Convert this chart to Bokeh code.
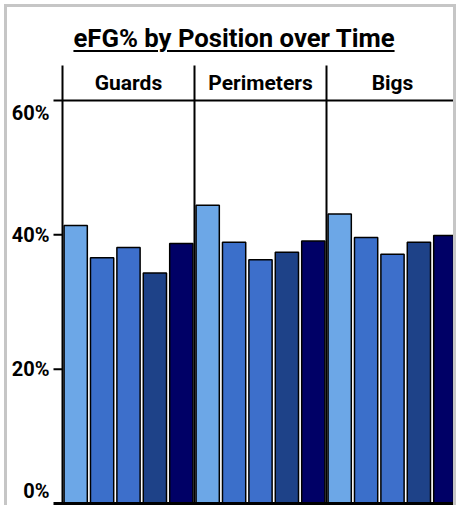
import numpy as np
from bokeh.plotting import figure
from bokeh.models import ColumnDataSource, Div, Range1d
from bokeh.layouts import column
from bokeh.core.properties import value
from bokeh.embed import file_html
from bokeh.resources import INLINE

# ---------------- data ----------------
chart_title = "eFG% by Position over Time"
positions = ["Guards", "Perimeters", "Bigs"]
periods = ["P1", "P2", "P3", "P4", "P5"]
guards = [41.4, 36.6, 38.1, 34.3, 38.7]
perimeters = [44.4, 38.9, 36.3, 37.4, 39.1]
bigs = [43.1, 39.6, 37.1, 38.9, 39.9]
period_colors = ["#6CA7E7", "#3B6FCA", "#3D6FCB", "#1E4288", "#000066"]
y_ticks = [0, 20, 40, 60]
y_tick_labels = ["0%", "20%", "40%", "60%"]
y_max = 60

# ---------------- layout / styling ----------------
FONT = "Roboto"
BORDER = 3
OUTER = 4
FIG_W, FIG_H = 446, 442
DIV_H = 56
left_px = 55          # room for tick labels
slot_px = 26.4
plot_px = 403         # 0 -> y_max
strip_px = 35
bottom_px = 2
tick_px = 9
n_per = len(periods)
n_slots = n_per * len(positions)
y_scale = plot_px / y_max
x_start = -left_px / slot_px
x_end = x_start + FIG_W / slot_px
strip_top = y_max + strip_px / y_scale
y_start = -bottom_px / y_scale
y_end = y_start + FIG_H / y_scale
tick_x0 = -tick_px / slot_px
label_x = -13 / slot_px

values = [guards, perimeters, bigs]
xs, tops, cols = [], [], []
for g, vals in enumerate(values):
    for k, v in enumerate(vals):
        xs.append(g * n_per + k + 0.5)
        tops.append(v)
        cols.append(period_colors[k])
src = ColumnDataSource(dict(x=xs, top=tops, color=cols))

p = figure(width=FIG_W, height=FIG_H, output_backend="svg", toolbar_location=None,
           x_range=Range1d(x_start, x_end), y_range=Range1d(y_start, y_end),
           min_border=0, margin=(0, BORDER, 0, BORDER))
p.axis.visible = False
p.grid.visible = False
p.outline_line_color = None
p.background_fill_color = "white"
p.border_fill_color = "white"

p.vbar(x="x", top="top", bottom=0, width=0.88, fill_color="color",
       line_color="black", line_width=1.5, source=src)

# horizontal rules (bottom axis and strip base) with their tick stubs
p.segment(x0=[tick_x0], y0=[y_ticks[0]], x1=[n_slots], y1=[y_ticks[0]], line_color="black", line_width=3)
p.segment(x0=[tick_x0], y0=[y_max], x1=[n_slots], y1=[y_max], line_color="black", line_width=2)
mid_ticks = y_ticks[1:-1]
p.segment(x0=[tick_x0] * len(mid_ticks), y0=mid_ticks, x1=[0] * len(mid_ticks), y1=mid_ticks,
          line_color="black", line_width=2)
# panel separators (incl. y axis line)
sep_x = [g * n_per for g in range(len(positions))]
p.segment(x0=sep_x, y0=[y_ticks[0]] * len(sep_x), x1=sep_x, y1=[strip_top] * len(sep_x),
          line_color="black", line_width=2)

# y tick labels (end labels nudged inside)
offs = [0] * len(y_ticks)
offs[0] = -13
offs[-1] = 12
lab_src = ColumnDataSource(dict(x=[label_x] * len(y_ticks), y=y_ticks, t=y_tick_labels, dy=offs))
p.text(x="x", y="y", text="t", y_offset="dy", source=lab_src, text_align="right",
       text_baseline="middle", text_font=value(FONT), text_font_style="bold",
       text_font_size="20px", text_color="black")

# facet strip labels
strip_src = ColumnDataSource(dict(x=[g * n_per + n_per / 2 for g in range(len(positions))],
                                  y=[(y_max + strip_top) / 2] * len(positions), t=positions))
p.text(x="x", y="y", text="t", source=strip_src, text_align="center", text_baseline="middle",
       text_font=value(FONT), text_font_style="bold", text_font_size="21px", text_color="black")

title_div = Div(text=('<div style="font-family: Roboto; font-weight: bold; font-size: 25.7px; '
                      'text-align: center; text-decoration: underline; text-decoration-thickness: 2px; '
                      'text-underline-offset: 3px; padding-top: 13px; padding-left: 8px; '
                      'box-sizing: border-box; color: black; width: %dpx;">'
                      % FIG_W + chart_title + '</div>'),
                width=FIG_W, height=DIV_H, margin=(BORDER, BORDER, 0, BORDER),
                styles={"background-color": "white"})

layout = column(title_div, p, spacing=0, margin=(OUTER, 0, 0, OUTER),
                styles={"background-color": "white",
                        "box-shadow": "inset 3px 3px 0 #c6c6c6, inset -3px 0 0 #c6c6c6"})

open("out.html", "w").write(file_html(layout, INLINE))
